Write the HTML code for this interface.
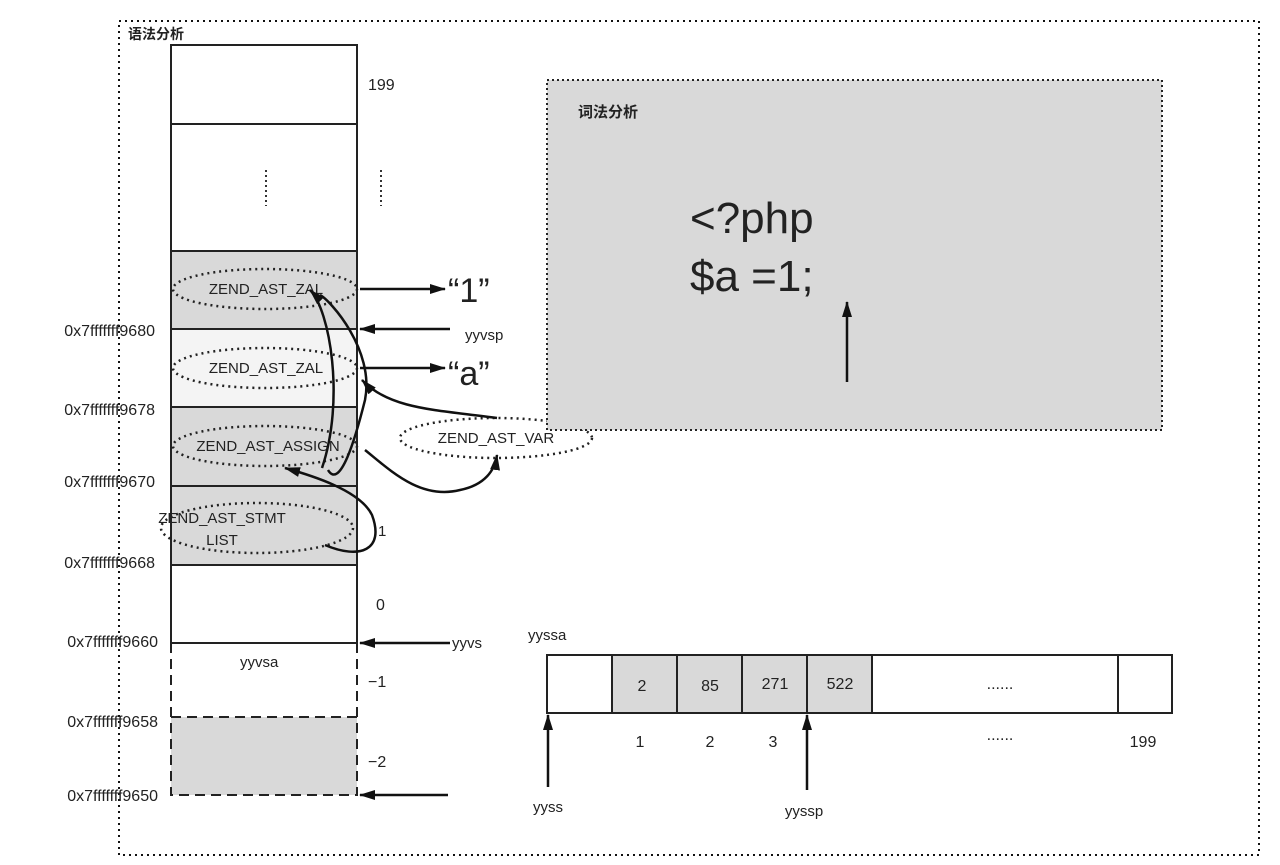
<!DOCTYPE html>
<html><head><meta charset="utf-8"><style>
html,body{margin:0;padding:0;background:#fff}
svg{display:block}
text{font-family:"Liberation Sans","Noto Sans CJK SC",sans-serif;fill:#222}
</style></head><body>
<svg width="1280" height="865" viewBox="0 0 1280 865" xmlns="http://www.w3.org/2000/svg">
<defs>
<marker id="ah" markerWidth="10" markerHeight="8" refX="9" refY="4" orient="auto" markerUnits="userSpaceOnUse"><path d="M0,0 L10,4 L0,8 Z" fill="#111"/></marker>
<marker id="ahb" markerWidth="16" markerHeight="10" refX="15" refY="5" orient="auto" markerUnits="userSpaceOnUse"><path d="M0,0 L16,5 L0,10 Z" fill="#111"/></marker>
</defs>
<rect x="119" y="21" width="1140" height="834" fill="none" stroke="#111" stroke-width="2" stroke-dasharray="2,4"/>
<text x="128" y="39" font-size="14" font-weight="bold">语法分析</text>

<!-- stack -->
<rect x="171" y="45" width="186" height="79" fill="#fff" stroke="#222" stroke-width="2"/>
<rect x="171" y="124" width="186" height="127" fill="#fff" stroke="#222" stroke-width="2"/>
<rect x="171" y="251" width="186" height="78" fill="#d9d9d9" stroke="#222" stroke-width="2"/>
<rect x="171" y="329" width="186" height="78" fill="#f4f4f4" stroke="#222" stroke-width="2"/>
<rect x="171" y="407" width="186" height="79" fill="#d9d9d9" stroke="#222" stroke-width="2"/>
<rect x="171" y="486" width="186" height="79" fill="#d9d9d9" stroke="#222" stroke-width="2"/>
<rect x="171" y="565" width="186" height="78" fill="#fff" stroke="#222" stroke-width="2"/>
<rect x="171" y="717" width="186" height="78" fill="#d9d9d9"/>
<path d="M171,643 V795 H357 V643 M171,717 H357" fill="none" stroke="#222" stroke-width="2" stroke-dasharray="10,6"/>
<line x1="266" y1="170" x2="266" y2="206" stroke="#333" stroke-width="2" stroke-dasharray="2,3"/>
<line x1="381" y1="170" x2="381" y2="206" stroke="#333" stroke-width="2" stroke-dasharray="2,3"/>
<text x="368" y="90" font-size="16">199</text>
<text x="376" y="610" font-size="16">0</text>
<text x="368" y="687" font-size="16">−1</text>
<text x="368" y="767" font-size="16">−2</text>
<text x="378" y="536" font-size="15">1</text>
<text x="240" y="667" font-size="15">yyvsa</text>

<g font-size="16" text-anchor="end">
<text x="155" y="336">0x7fffffff9680</text>
<text x="155" y="415">0x7fffffff9678</text>
<text x="155" y="487">0x7fffffff9670</text>
<text x="155" y="568">0x7fffffff9668</text>
<text x="158" y="647">0x7fffffff9660</text>
<text x="158" y="727">0x7fffffff9658</text>
<text x="158" y="801">0x7fffffff9650</text>
</g>

<!-- ellipses -->
<g fill="#fff" fill-opacity="0" stroke="#222" stroke-width="2.5" stroke-dasharray="2,4">
<ellipse cx="265" cy="289" rx="92" ry="20"/>
<ellipse cx="265" cy="368" rx="92" ry="20"/>
<ellipse cx="265" cy="446" rx="92" ry="20"/>
<ellipse cx="257" cy="528" rx="96" ry="25"/>
<ellipse cx="496" cy="438" rx="96" ry="20"/>
</g>
<g font-size="15" text-anchor="middle">
<text x="266" y="294">ZEND_AST_ZAL</text>
<text x="266" y="373">ZEND_AST_ZAL</text>
<text x="268" y="451">ZEND_AST_ASSIGN</text>
<text x="222" y="523">ZEND_AST_STMT</text>
<text x="222" y="545">LIST</text>
<text x="496" y="443">ZEND_AST_VAR</text>
</g>

<!-- arrows -->
<g stroke="#111" stroke-width="2.5" fill="none">
<line x1="360" y1="289" x2="445" y2="289" marker-end="url(#ahb)"/>
<line x1="360" y1="368" x2="445" y2="368" marker-end="url(#ahb)"/>
<line x1="450" y1="329" x2="360" y2="329" marker-end="url(#ahb)"/>
<line x1="450" y1="643" x2="360" y2="643" marker-end="url(#ahb)"/>
<line x1="448" y1="795" x2="360" y2="795" marker-end="url(#ahb)"/>
<path d="M328,470 C340,490 355,440 365,400 C375,350 330,300 320,295" />
<path d="M322,468 C345,400 330,310 310,290" marker-end="url(#ahb)"/>
<path d="M497,418 C440,410 390,410 362,380" marker-end="url(#ahb)"/>
<path d="M365,450 C390,470 420,500 460,490 C485,485 495,470 497,455" marker-end="url(#ahb)"/>
<path d="M325,545 C360,560 385,550 372,515 C360,490 310,475 285,468" marker-end="url(#ahb)"/>
</g>
<text x="448" y="302" font-size="34">“1”</text>
<text x="448" y="385" font-size="34">“a”</text>
<text x="465" y="340" font-size="15">yyvsp</text>
<text x="452" y="648" font-size="15">yyvs</text>

<!-- lexical -->
<rect x="547" y="80" width="615" height="350" fill="#d9d9d9" stroke="#222" stroke-width="2" stroke-dasharray="2,3"/>
<text x="578" y="117" font-size="15" font-weight="bold">词法分析</text>
<text x="690" y="233" font-size="44">&lt;?php</text>
<text x="690" y="291" font-size="44">$a =1;</text>
<line x1="847" y1="382" x2="847" y2="302" stroke="#111" stroke-width="2.5" marker-end="url(#ahb)"/>

<!-- array -->
<text x="528" y="640" font-size="15">yyssa</text>
<rect x="612" y="655" width="260" height="58" fill="#d9d9d9"/>
<g stroke="#222" stroke-width="2" fill="none">
<rect x="547" y="655" width="625" height="58"/>
<line x1="612" y1="655" x2="612" y2="713"/><line x1="677" y1="655" x2="677" y2="713"/>
<line x1="742" y1="655" x2="742" y2="713"/><line x1="807" y1="655" x2="807" y2="713"/>
<line x1="872" y1="655" x2="872" y2="713"/><line x1="1118" y1="655" x2="1118" y2="713"/>
</g>
<g font-size="16" text-anchor="middle">
<text x="642" y="691">2</text><text x="710" y="691">85</text><text x="775" y="689">271</text><text x="840" y="689">522</text>
<text x="1000" y="689">......</text>
<text x="640" y="747">1</text><text x="710" y="747">2</text><text x="773" y="747">3</text>
<text x="1000" y="740">......</text><text x="1143" y="747">199</text>
<text x="548" y="812" font-size="15">yyss</text><text x="804" y="816" font-size="15">yyssp</text>
</g>
<line x1="548" y1="787" x2="548" y2="715" stroke="#111" stroke-width="2.5" marker-end="url(#ahb)"/>
<line x1="807" y1="790" x2="807" y2="715" stroke="#111" stroke-width="2.5" marker-end="url(#ahb)"/>
</svg>
</body></html>
